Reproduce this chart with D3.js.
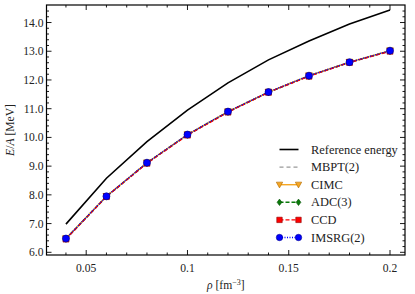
<!DOCTYPE html>
<html><head><meta charset="utf-8">
<script src="https://cdn.jsdelivr.net/npm/d3@7"></script>
<style>body{margin:0;background:#fff}svg{display:block}svg text{font-family:"Liberation Serif","Times New Roman","DejaVu Serif",serif !important;}</style>
</head><body><svg id="c" width="415" height="294"></svg>
<script>
const rho = [0.04,0.06,0.08,0.10,0.12,0.14,0.16,0.18,0.20];
const refEnergy = [6.98,8.58,9.85,10.95,11.90,12.70,13.36,13.95,14.44];
const mbpt2 = [6.47,7.95,9.11,10.09,10.89,11.58,12.14,12.62,13.01];
const cimc  = [6.48,7.95,9.12,10.10,10.90,11.58,12.15,12.62,13.02];
const adc3  = [6.47,7.94,9.11,10.09,10.89,11.57,12.14,12.61,13.01];
const ccd   = [6.46,7.94,9.10,10.08,10.88,11.57,12.13,12.61,13.00];
const imsrg2= [6.48,7.95,9.12,10.10,10.90,11.58,12.15,12.62,13.02];
const xTicks = [0.05,0.10,0.15,0.20];
const yTicks = [6,7,8,9,10,11,12,13,14];
const legendLabels = ["Reference energy","MBPT(2)","CIMC","ADC(3)","CCD","IMSRG(2)"];

const svg = d3.select("#c");
const L=46.5, R=405, T=5, B=255;
const x = d3.scaleLinear().domain([0.0304,0.2074]).range([L,R]);
const y = d3.scaleLinear().domain([5.906,14.61]).range([B,T]);

const series = [
  {name:legendLabels[0], v:refEnergy, color:"#000", dash:null, w:1.6, marker:null},
  {name:legendLabels[1], v:mbpt2, color:"#999", dash:"4,3", w:1.3, marker:null},
  {name:legendLabels[2], v:cimc, color:"#f5a623", dash:null, w:1.4, marker:"tri", fill:"#f5a623", stroke:"#b06a00"},
  {name:legendLabels[3], v:adc3, color:"#0a7a0a", dash:"4,2", w:1.4, marker:"dia", fill:"#0a7a0a", stroke:"#064d06"},
  {name:legendLabels[4], v:ccd, color:"#ff0000", dash:"4,2", w:1.4, marker:"sq", fill:"#ff0000", stroke:"#8b0000"},
  {name:legendLabels[5], v:imsrg2, color:"#0000ff", dash:"1,1.5", w:1.4, marker:"circ", fill:"#0000ff", stroke:"#00008b"}
];

const plot = svg.append("g");
const line = d3.line().x((d,i)=>x(rho[i])).y(d=>y(d));
function drawMarker(g, type, cx, cy, s, r){
  let p;
  if(type==="tri") p = `M${-r},${-r*0.8}L${r},${-r*0.8}L0,${r}Z`;
  else if(type==="dia") p = `M0,${-r}L${r*0.75},0L0,${r}L${-r*0.75},0Z`;
  else if(type==="sq") p = `M${-r*0.85},${-r*0.85}h${1.7*r}v${1.7*r}h${-1.7*r}Z`;
  else p = d3.arc()({innerRadius:0,outerRadius:r,startAngle:0,endAngle:2*Math.PI});
  g.append("path").attr("d",p).attr("transform",`translate(${cx},${cy})`)
   .attr("fill",s.fill).attr("stroke",s.stroke).attr("stroke-width",0.6);
}
series.forEach(s=>{
  plot.append("path").attr("d",line(s.v)).attr("fill","none")
    .attr("stroke",s.color).attr("stroke-width",s.w)
    .attr("stroke-dasharray",s.dash);
});
series.forEach(s=>{
  if(!s.marker) return;
  s.v.forEach((d,i)=>drawMarker(plot,s.marker,x(rho[i]),y(d),s,3.5));
});

svg.append("rect").attr("x",L).attr("y",T).attr("width",R-L).attr("height",B-T)
  .attr("fill","none").attr("stroke","#000").attr("stroke-width",1.2);

const ax = svg.append("g").attr("stroke","#000").attr("stroke-width",0.9);
d3.range(4,21).map(v=>v/100).forEach(v=>{
  const major = xTicks.some(t=>Math.abs(t-v)<1e-9);
  const len = major?5:2.5;
  ax.append("line").attr("x1",x(v)).attr("x2",x(v)).attr("y1",B).attr("y2",B-len);
  ax.append("line").attr("x1",x(v)).attr("x2",x(v)).attr("y1",T).attr("y2",T+len);
});
d3.range(30,73).map(v=>v/5).forEach(v=>{
  if(y(v)<T-0.1||y(v)>B+0.1) return;
  const major = Math.abs(v-Math.round(v))<1e-9;
  const len = major?5:2.5;
  ax.append("line").attr("y1",y(v)).attr("y2",y(v)).attr("x1",L).attr("x2",L+len);
  ax.append("line").attr("y1",y(v)).attr("y2",y(v)).attr("x1",R).attr("x2",R-len);
});
const txt = (sel)=>sel.append("text").attr("fill","#222");
xTicks.forEach(t=>{
  txt(svg).attr("x",x(t)).attr("y",272).attr("text-anchor","middle")
   .attr("font-size",11.6).text(d3.format("~g")(t));
});
yTicks.forEach(t=>{
  txt(svg).attr("x",43.5).attr("y",y(t)+4).attr("text-anchor","end")
   .attr("font-size",11.6).text(d3.format(".1f")(t));
});

const xl = txt(svg).attr("x",(L+R)/2).attr("y",289).attr("text-anchor","middle").attr("font-size",11.6);
xl.append("tspan").attr("font-style","italic").text("ρ");
xl.append("tspan").text(" [fm");
xl.append("tspan").attr("font-size",8).attr("dy",-4).text("−3");
xl.append("tspan").attr("dy",4).text("]");
const yl = txt(svg).attr("transform",`translate(14,${(T+B)/2}) rotate(-90)`).attr("text-anchor","middle").attr("font-size",11.6);
yl.append("tspan").attr("font-style","italic").text("E");
yl.append("tspan").text("/");
yl.append("tspan").attr("font-style","italic").text("A");
yl.append("tspan").text(" [MeV]");

const lg = svg.append("g");
const ly0=149.5, dy=17.6, lx1=279.5, lx2=298.5;
series.forEach((s,i)=>{
  const yy = ly0+i*dy;
  lg.append("line").attr("x1",lx1).attr("x2",lx2).attr("y1",yy).attr("y2",yy)
    .attr("stroke",s.color).attr("stroke-width",s.w).attr("stroke-dasharray",s.dash);
  if(s.marker){ drawMarker(lg,s.marker,lx1,yy,s,3.2); drawMarker(lg,s.marker,lx2,yy,s,3.2); }
  txt(lg).attr("x",311).attr("y",yy+4).attr("font-size",12.4).text(s.name);
});
</script></body></html>
